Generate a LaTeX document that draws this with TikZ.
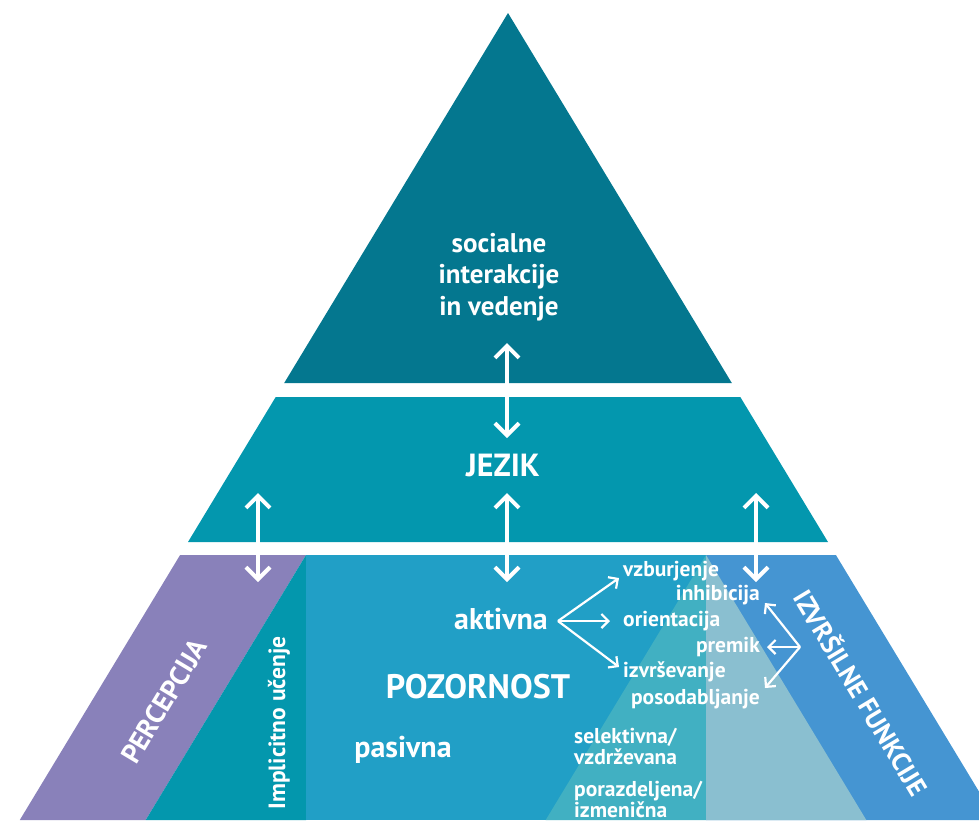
\documentclass[tikz,border=0pt]{standalone}
\usepackage{fontspec}
\setmainfont{PT Sans}
\usetikzlibrary{arrows.meta}

\definecolor{cTop}{RGB}{4,119,143}
\definecolor{cLang}{RGB}{3,151,174}
\definecolor{cPerc}{RGB}{137,129,186}
\definecolor{cImpl}{RGB}{3,151,173}
\definecolor{cAtt}{RGB}{33,159,198}
\definecolor{cExec}{RGB}{69,149,210}
\definecolor{cInL}{RGB}{65,176,194}
\definecolor{cInR}{RGB}{138,191,208}

\tikzset{
  lbl/.style={text=white, font=\bfseries, inner sep=0pt},
  bigarrow/.style={draw=white, line width=4pt, line join=miter,
    {Straight Barb[length=12pt,width=24pt]}-{Straight Barb[length=12pt,width=24pt]}},
  smallarrow/.style={draw=white, line width=2.2pt, line join=miter,
    -{Straight Barb[length=7pt,width=14pt]}},
}

\begin{document}
\begin{tikzpicture}[x=1pt,y=-1pt]
\useasboundingbox (0,0) rectangle (979,820);
\clip (0,0) rectangle (979,820);

% top tier
\fill[cTop] (508,13) -- (284.2,383) -- (731.8,383) -- cycle;
% middle tier
\fill[cLang] (275.7,397) -- (740.3,397) -- (828,542) -- (188,542) -- cycle;
% bottom tier
\fill[cPerc] (180.1,555) -- (306,555) -- (145.7,820) -- (19.8,820) -- cycle;
\fill[cImpl] (306,555) -- (306,820) -- (145.7,820) -- cycle;
\fill[cAtt] (306,555) rectangle (706,820);
\fill[cExec] (706,555) -- (835.9,555) -- (996.2,820) -- (706,820) -- cycle;
\fill[cInL] (706,555) -- (706,820) -- (545.7,820) -- cycle;
\fill[cInR] (706,555) -- (866.3,820) -- (706,820) -- cycle;

% labels
\node[lbl, font=\bfseries\fontsize{27}{31.5}\selectfont, align=center] (soc) at (499,277)
  {socialne\\interakcije\\in vedenje};
\node[lbl, font=\bfseries\fontsize{32}{36}\selectfont] (jez) at (503,465) {JEZIK};
\node[lbl, font=\bfseries\fontsize{34}{38}\selectfont] (poz) at (478,687) {POZORNOST};
\node[lbl, font=\bfseries\fontsize{30}{34}\selectfont] (akt) at (501,619) {aktivna};
\node[lbl, font=\bfseries\fontsize{30}{34}\selectfont] (pas) at (403,750) {pasivna};
\node[lbl, font=\bfseries\fontsize{23.5}{27}\selectfont, rotate=90] (impl) at (279,723) {Implicitno učenje};
\node[lbl, font=\bfseries\fontsize{27.5}{31}\selectfont, rotate=59] (perc) at (164,701) {PERCEPCIJA};
\node[lbl, font=\bfseries\fontsize{26.5}{30}\selectfont, rotate=-59] (izv) at (862,692) {IZVRŠILNE FUNKCIJE};

\begin{scope}[every node/.style={lbl, font=\bfseries\fontsize{21.5}{21}\selectfont}]
\node[anchor=west] (vzb) at (623,571) {vzburjenje};
\node[anchor=east] (inh) at (760,595) {inhibicija};
\node[anchor=west] (ori) at (623,621) {orientacija};
\node[anchor=east] (pre) at (760,647) {premik};
\node[anchor=west] (izr) at (623,672) {izvrševanje};
\node[anchor=east] (pos) at (760,699) {posodabljanje};
\node[anchor=west, align=left] (sel) at (574,746) {selektivna/\\vzdrževana};
\node[anchor=west, align=left] (por) at (574,799) {porazdeljena/\\izmenična};
\end{scope}

% vertical links between tiers
\coordinate (c1t) at (507,343);
\coordinate (c1b) at (507,438);
\coordinate (c2t) at (507,493);
\coordinate (c2b) at (507,582);
\coordinate (l2t) at (258,493);
\coordinate (l2b) at (258,582);
\coordinate (r2t) at (756,493);
\coordinate (r2b) at (756,582);
\draw[bigarrow] (c1t) -- (c1b);
\draw[bigarrow] (c2t) -- (c2b);
\draw[bigarrow] (l2t) -- (l2b);
\draw[bigarrow] (r2t) -- (r2b);

% fan out of active attention
\coordinate (ahub) at (558,621);
\coordinate (avzb) at (619,578);
\coordinate (aori) at (610,621);
\coordinate (aizr) at (619,667);
\draw[smallarrow] (ahub) -- (avzb);
\draw[smallarrow] (ahub) -- (aori);
\draw[smallarrow] (ahub) -- (aizr);

% fan out of executive functions
\coordinate (ehub) at (800,647);
\coordinate (einh) at (765,603);
\coordinate (epre) at (767,647);
\coordinate (epos) at (765,688);
\draw[smallarrow] (ehub) -- (einh);
\draw[smallarrow] (ehub) -- (epre);
\draw[smallarrow] (ehub) -- (epos);
\end{tikzpicture}
\end{document}
